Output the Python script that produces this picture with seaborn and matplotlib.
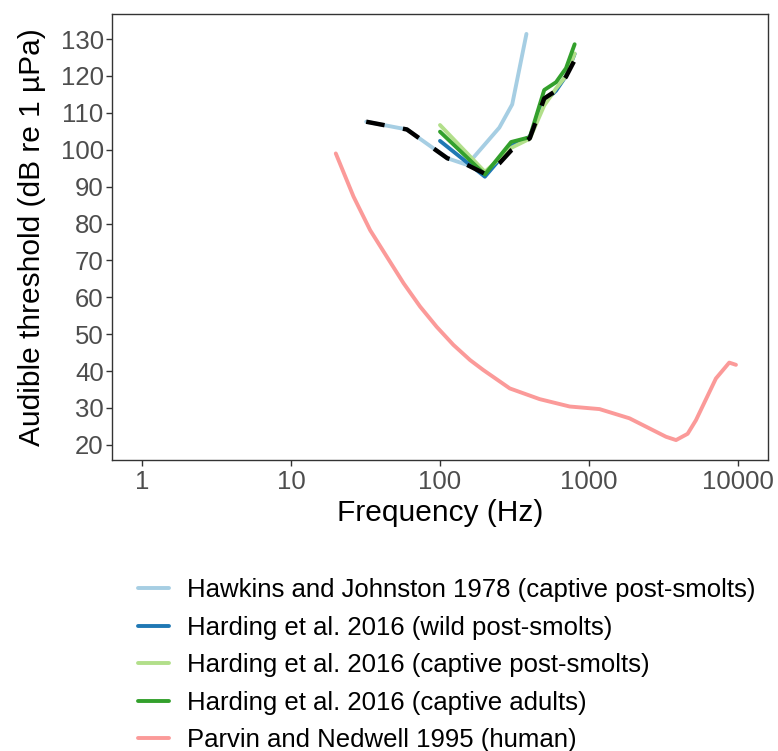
""" Audiogram comparison: salmon vs human hearing thresholds """

import numpy as np
import pandas as pd
import matplotlib
matplotlib.use('Agg')
import matplotlib.pyplot as plt
from matplotlib.lines import Line2D
import seaborn as sns

# Hawkins and Johnston 1978 (captive post-smolts)
hawkins_freq = [32, 60, 112, 152, 250, 305, 380]
hawkins_db = [107.6, 105.5, 97.7, 95.9, 106.0, 112.3, 131.4]

# Harding et al. 2016, three groups at the same frequencies
harding_freq = [100, 200, 300, 400, 500, 600, 700, 800]
wild_db = [102.4, 92.7, 101.0, 103.5, 113.0, 116.0, 120.0, 126.0]
captive_smolt_db = [106.7, 94.0, 100.5, 103.0, 112.0, 116.6, 120.0, 126.1]
captive_adult_db = [104.9, 93.3, 102.1, 103.4, 116.2, 118.3, 122.1, 128.6]

# Parvin and Nedwell 1995 (human)
parvin_freq = [20, 26.3, 34, 44, 57, 73.5, 95, 123, 159, 195, 294, 466, 741,
               1175, 1866, 3280, 3830, 4580, 5210, 7090, 8710, 9660]
parvin_db = [99.0, 87.3, 78.2, 71.0, 63.8, 57.5, 52.0, 47.1, 43.0, 40.3, 35.3,
             32.4, 30.4, 29.7, 27.2, 22.2, 21.3, 23.0, 26.7, 38.0, 42.3, 41.7]

# combined salmon curve (black dashed, not in legend)
combined_freq = [32, 60, 112, 152, 200, 250, 300, 400, 500, 600, 700, 800]
combined_db = [107.6, 105.5, 97.7, 95.9, 93.5, 96.3, 99.8, 103.1, 113.9,
               116.0, 119.8, 124.3]

labels = ['Hawkins and Johnston 1978 (captive post-smolts)',
          'Harding et al. 2016 (wild post-smolts)',
          'Harding et al. 2016 (captive post-smolts)',
          'Harding et al. 2016 (captive adults)',
          'Parvin and Nedwell 1995 (human)']
colors = ['#A6CEE3', '#1F78B4', '#B2DF8A', '#33A02C', '#FB9A99']

freqs = [hawkins_freq, harding_freq, harding_freq, harding_freq, parvin_freq]
levels = [hawkins_db, wild_db, captive_smolt_db, captive_adult_db, parvin_db]

frames = []
for lab, f, d in zip(labels, freqs, levels):
    frames.append(pd.DataFrame({'freq': f, 'db': d, 'source': lab}))
df = pd.concat(frames, ignore_index=True)

sns.set_style('white')
plt.rcParams['font.family'] = ['Liberation Sans', 'DejaVu Sans']

fig = plt.figure(figsize=(7.78, 7.51), dpi=100)
ax = fig.add_axes([112/778, 1 - 460/751, (768-112)/778, (460-14)/751])

lw = 2.8
sns.lineplot(data=df, x='freq', y='db', hue='source', hue_order=labels,
             palette=dict(zip(labels, colors)), estimator=None, sort=False,
             linewidth=lw, legend=False, ax=ax)
sns.lineplot(x=combined_freq, y=combined_db, color='black', linewidth=3.2,
             estimator=None, sort=False, ax=ax, linestyle=(0, (4.2, 4.2)))

ax.set_xscale('log')
ax.set_xlim(10**-0.2, 10**4.2)
ax.set_ylim(15.9, 136.8)
ax.set_xticks([1, 10, 100, 1000, 10000])
ax.set_xticklabels(['1', '10', '100', '1000', '10000'])
ax.xaxis.set_minor_locator(matplotlib.ticker.NullLocator())
ax.set_yticks(np.arange(20, 131, 10))

ax.tick_params(axis='both', which='major', direction='out', length=4.5,
               width=1, color='#333333', labelcolor='#4D4D4D',
               labelsize=18.5, left=True, bottom=True)
ax.tick_params(axis='y', pad=1.5)
ax.tick_params(axis='x', pad=2.5)
for sp in ax.spines.values():
    sp.set_color('#333333')
    sp.set_linewidth(1)

ax.set_xlabel('Frequency (Hz)', fontsize=21.5, color='black', labelpad=4)
ax.set_ylabel('Audible threshold (dB re 1 µPa)', fontsize=21.5, color='black')
ax.yaxis.set_label_coords(-0.1, 0.5)

handles = [Line2D([0], [0], color=c, linewidth=lw) for c in colors]
ax.legend(handles, labels, loc='upper left', bbox_to_anchor=(138/778, 1 - 578/751),
          bbox_transform=fig.transFigure, frameon=False, fontsize=18.5,
          borderpad=0, borderaxespad=0, handlelength=1.2, handletextpad=0.7,
          labelspacing=0.53, labelcolor='black')

fig.savefig('out.png', dpi=100)
